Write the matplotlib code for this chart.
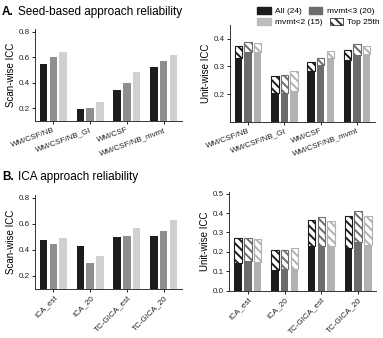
import numpy as np
import matplotlib.pyplot as plt

plt.rcParams['font.family'] = ['Liberation Sans', 'DejaVu Sans']
plt.rcParams['hatch.linewidth'] = 1.4

# seed-based approach
seed_labels = ['WM/CSF/NB', 'WM/CSF/NB_GI', 'WM/CSF', 'WM/CSF/NB_mvmt']
seed_scan_all = [0.545, 0.195, 0.34, 0.52]
seed_scan_m3 = [0.60, 0.20, 0.40, 0.57]
seed_scan_m2 = [0.64, 0.25, 0.485, 0.615]
seed_unit_all = [0.332, 0.205, 0.285, 0.322]
seed_unit_m3 = [0.352, 0.205, 0.305, 0.340]
seed_unit_m2 = [0.352, 0.210, 0.330, 0.345]
seed_top_all = [0.373, 0.265, 0.315, 0.360]
seed_top_m3 = [0.390, 0.268, 0.330, 0.380]
seed_top_m2 = [0.385, 0.283, 0.355, 0.375]

# ICA approach
ica_labels = ['ICA_est', 'ICA_20', 'TC-GICA_est', 'TC-GICA_20']
ica_scan_all = [0.475, 0.43, 0.50, 0.505]
ica_scan_m3 = [0.44, 0.30, 0.505, 0.54]
ica_scan_m2 = [0.49, 0.35, 0.57, 0.63]
ica_unit_all = [0.145, 0.105, 0.228, 0.222]
ica_unit_m3 = [0.155, 0.112, 0.228, 0.250]
ica_unit_m2 = [0.150, 0.112, 0.230, 0.235]
ica_top_all = [0.270, 0.210, 0.365, 0.385]
ica_top_m3 = [0.270, 0.210, 0.380, 0.410]
ica_top_m2 = [0.265, 0.218, 0.360, 0.387]

scan_colors = ['#1c1c1c', '#8e8e8e', '#d0d0d0']
unit_colors = ['#1c1c1c', '#6c6c6c', '#b2b2b2']
step = 0.265
w = 0.205
hatch = '\\\\\\\\'

fig = plt.figure(figsize=(3.83, 3.38), dpi=100)
ax_tl = fig.add_axes([0.0914, 0.642, 0.384, 0.272])
ax_tr = fig.add_axes([0.6005, 0.640, 0.379, 0.286])
ax_bl = fig.add_axes([0.0914, 0.146, 0.384, 0.277])
ax_br = fig.add_axes([0.599, 0.140, 0.384, 0.293])


def style(ax, labels, rot):
    ax.spines['top'].set_visible(False)
    ax.spines['right'].set_visible(False)
    for s in ['left', 'bottom']:
        ax.spines[s].set_linewidth(0.7)
        ax.spines[s].set_color('#333333')
    ax.set_xlim(-0.5, 3.5)
    ax.set_xticks(np.arange(len(labels)))
    ax.set_xticklabels(labels, rotation=rot, ha='right', rotation_mode='anchor')
    ax.tick_params(labelsize=5.8, length=2.5, width=0.7, pad=1.5, colors='#222222')


def scan_panel(ax, labels, series, rot):
    x = np.arange(len(labels))
    for i, vals in enumerate(series):
        ax.bar(x + (i - 1) * step, vals, width=w, color=scan_colors[i])
    style(ax, labels, rot)
    ax.set_ylabel('Scan-wise ICC', fontsize=7, labelpad=2)


def unit_panel(ax, labels, solids, tops, rot):
    x = np.arange(len(labels))
    for i in range(3):
        xs = x + (i - 1) * step
        ax.bar(xs, solids[i], width=w, color=unit_colors[i])
        ax.bar(xs, np.array(tops[i]) - np.array(solids[i]), bottom=solids[i],
               width=w, facecolor='white', edgecolor=unit_colors[i],
               hatch=hatch, linewidth=0.8)
    style(ax, labels, rot)
    ax.set_ylabel('Unit-wise ICC', fontsize=7, labelpad=2)


scan_panel(ax_tl, seed_labels, [seed_scan_all, seed_scan_m3, seed_scan_m2], 20)
ax_tl.set_ylim(0.1, 0.82)
ax_tl.set_yticks([0.2, 0.4, 0.6, 0.8])

unit_panel(ax_tr, seed_labels, [seed_unit_all, seed_unit_m3, seed_unit_m2],
           [seed_top_all, seed_top_m3, seed_top_m2], 20)
ax_tr.set_ylim(0.1, 0.45)
ax_tr.set_yticks([0.2, 0.3, 0.4])

scan_panel(ax_bl, ica_labels, [ica_scan_all, ica_scan_m3, ica_scan_m2], 45)
ax_bl.set_ylim(0.1, 0.82)
ax_bl.set_yticks([0.2, 0.4, 0.6, 0.8])

unit_panel(ax_br, ica_labels, [ica_unit_all, ica_unit_m3, ica_unit_m2],
           [ica_top_all, ica_top_m3, ica_top_m2], 45)
ax_br.set_ylim(0, 0.51)
ax_br.set_yticks([0.0, 0.1, 0.2, 0.3, 0.4, 0.5])

fig.text(0.005, 0.965, 'A.', fontsize=8.5, va='center', fontweight='bold')
fig.text(0.048, 0.965, 'Seed-based approach reliability', fontsize=8.5, va='center')
fig.text(0.005, 0.475, 'B.', fontsize=8.5, va='center', fontweight='bold')
fig.text(0.048, 0.475, 'ICA approach reliability', fontsize=8.5, va='center')

h_all = plt.Rectangle((0, 0), 1, 1, color=unit_colors[0])
h_m3 = plt.Rectangle((0, 0), 1, 1, color=unit_colors[1])
h_m2 = plt.Rectangle((0, 0), 1, 1, color='#bdbdbd')
h_top = plt.Rectangle((0, 0), 1, 1, facecolor='white', edgecolor='#333333',
                      hatch=hatch, linewidth=0.6)
kw = dict(frameon=False, fontsize=6, ncol=2, handlelength=1.6, handleheight=0.9,
          handletextpad=0.5, columnspacing=0.9, borderpad=0, borderaxespad=0)
fig.legend([h_all, h_m3], ['All (24)', 'mvmt<3 (20)'], loc='center left',
           bbox_to_anchor=(0.672, 0.967), **kw)
fig.legend([h_m2, h_top], ['mvmt<2 (15)', 'Top 25th'], loc='center left',
           bbox_to_anchor=(0.672, 0.935), **kw)

fig.savefig('out.png', dpi=100)
